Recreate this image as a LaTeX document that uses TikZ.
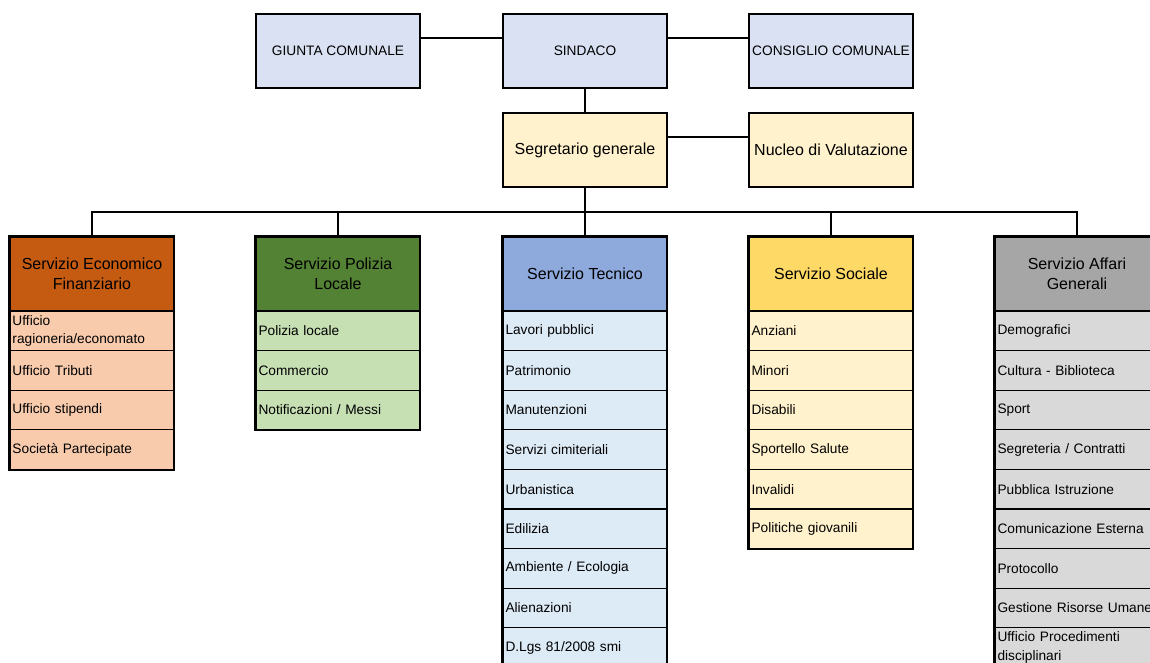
\documentclass[tikz,border=0pt]{standalone}
\usepackage{fontspec}
\setmainfont{Liberation Sans}
\definecolor{topblue}{HTML}{D9E1F2}
\definecolor{segyel}{HTML}{FFF2CC}
\definecolor{econH}{HTML}{C55A11}
\definecolor{econR}{HTML}{F8CBAD}
\definecolor{polH}{HTML}{548235}
\definecolor{polR}{HTML}{C6E0B4}
\definecolor{tecH}{HTML}{8EA9DB}
\definecolor{tecR}{HTML}{DDEBF7}
\definecolor{socH}{HTML}{FFD966}
\definecolor{socR}{HTML}{FFF2CC}
\definecolor{affH}{HTML}{A6A6A6}
\definecolor{affR}{HTML}{D9D9D9}
\tikzset{
  bigbox/.style={draw, line width=1.6pt, minimum width=164pt, minimum height=74pt, inner sep=0pt, align=center},
  smallfont/.style={font=\fontsize{13.7}{18.5}\selectfont},
  largefont/.style={font=\fontsize{16}{20.5}\selectfont},
  head/.style={bigbox, largefont},
  rowbox/.style={draw, line width=1.1pt, text width=159pt, inner xsep=2.5pt, inner ysep=0pt, minimum height=39.6pt, align=left, smallfont},
  outline/.style={draw, line width=1.6pt},
  conn/.style={draw, line width=1.3pt}
}
\newcommand{\mkcol}[7]{%
  \node[head, fill=#3] (#1h) at (#2,274) {#5};
  \foreach \t [count=\i] in {#6} {
    \node[rowbox, fill=#4] (#1\i) at (#2,{311+39.6*(\i-0.5)}) {\t};
  }
  \draw[outline] (#1h.north west) rectangle (#1#7.south east);
}
\begin{document}
\begin{tikzpicture}[x=1pt,y=-1pt]
\useasboundingbox (0,0) rectangle (1150,663);
\clip (0,0) rectangle (1150,663);
% top row
\node[bigbox, smallfont, fill=topblue] (giunta) at (338,51) {GIUNTA COMUNALE};
\node[bigbox, smallfont, fill=topblue] (sindaco) at (585,51) {SINDACO};
\node[bigbox, smallfont, fill=topblue] (consiglio) at (831,51) {CONSIGLIO COMUNALE};
\node[bigbox, largefont, fill=segyel] (seg) at (585,150) {Segretario generale};
\node[bigbox, largefont, fill=segyel] (nucleo) at (831,150) {Nucleo di Valutazione};
\draw[conn] ([yshift=13pt]giunta.east) -- ([yshift=13pt]sindaco.west);
\draw[conn] ([yshift=13pt]sindaco.east) -- ([yshift=13pt]consiglio.west);
\draw[conn] ([yshift=13pt]seg.east) -- ([yshift=13pt]nucleo.west);
\draw[conn] (sindaco.south) -- (seg.south |- sindaco.south) -- (seg.north);
% columns
\mkcol{e}{92}{econH}{econR}{Servizio Economico\\Finanziario}{{Ufficio\\ragioneria/economato},Ufficio Tributi,Ufficio stipendi,Società Partecipate}{4}
\mkcol{p}{338}{polH}{polR}{Servizio Polizia\\Locale}{Polizia locale,Commercio,Notificazioni / Messi}{3}
\mkcol{t}{585}{tecH}{tecR}{Servizio Tecnico}{Lavori pubblici,Patrimonio,Manutenzioni,Servizi cimiteriali,Urbanistica,Edilizia,Ambiente / Ecologia,Alienazioni,D.Lgs 81/2008 smi}{9}
\mkcol{s}{831}{socH}{socR}{Servizio Sociale}{Anziani,Minori,Disabili,Sportello Salute,Invalidi,Politiche giovanili}{6}
\mkcol{a}{1077}{affH}{affR}{Servizio Affari\\Generali}{Demografici,Cultura - Biblioteca,Sport,Segreteria / Contratti,Pubblica Istruzione,Comunicazione Esterna,Protocollo,Gestione Risorse Umane,{Ufficio Procedimenti\\disciplinari}}{9}
% bus
\coordinate (bus) at (585,212);
\draw[conn] (seg.south) -- (bus);
\draw[conn] (eh.north) |- (bus) -| (ah.north);
\draw[conn] (ph.north) -- (ph.north |- bus);
\draw[conn] (th.north) -- (th.north |- bus);
\draw[conn] (sh.north) -- (sh.north |- bus);
\end{tikzpicture}
\end{document}
